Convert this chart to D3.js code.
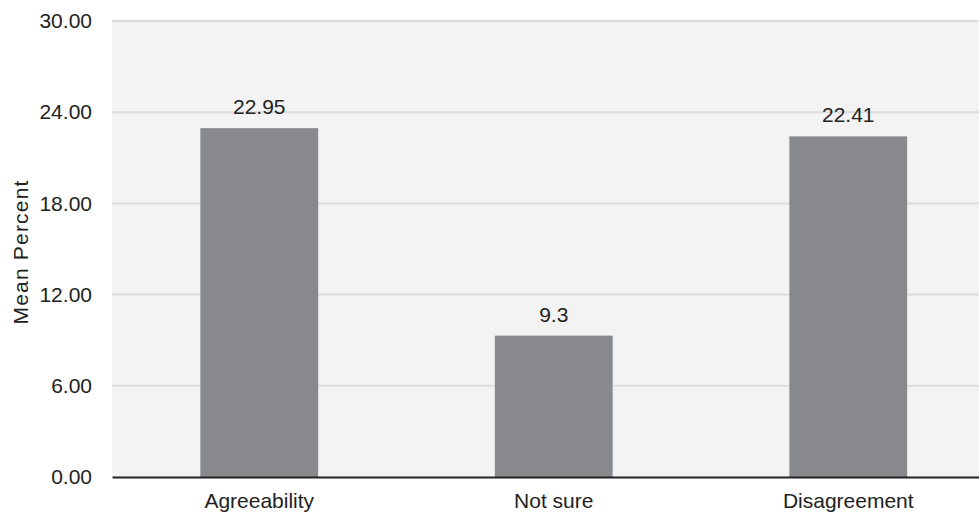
<!DOCTYPE html>
<html>
<head>
<meta charset="utf-8">
<script src="https://cdn.jsdelivr.net/npm/d3@7"></script>
<style>
  html, body { margin: 0; padding: 0; background: #ffffff; }
  svg { display: block; font-family: "Liberation Sans", Arial, sans-serif; }
</style>
</head>
<body>
<svg id="chart" width="979" height="515"></svg>
<script>
// Mean percent of responses per category
const categories = ["Agreeability", "Not sure", "Disagreement"];
const values = [22.95, 9.3, 22.41];
const valueLabels = ["22.95", "9.3", "22.41"];
const yTicks = [0, 6, 12, 18, 24, 30];

const svg = d3.select("#chart");
const plot = { left: 112, right: 995.5, top: 21, bottom: 477 };
const fontSize = 21;

const x = d3.scaleBand()
  .domain(categories)
  .range([plot.left, plot.right])
  .paddingInner(0.6)
  .paddingOuter(0.3);

const y = d3.scaleLinear()
  .domain([0, 30])
  .range([plot.bottom, plot.top]);

// plot background
svg.append("rect")
  .attr("x", plot.left)
  .attr("y", plot.top)
  .attr("width", plot.right - plot.left)
  .attr("height", plot.bottom - plot.top)
  .attr("fill", "#f3f3f3");

// horizontal gridlines
svg.append("g")
  .selectAll("line")
  .data(yTicks.filter(d => d > 0))
  .join("line")
  .attr("x1", plot.left)
  .attr("x2", plot.right)
  .attr("y1", d => y(d))
  .attr("y2", d => y(d))
  .attr("stroke", "#dcdcdc")
  .attr("stroke-width", 2);

// y axis tick labels
const yAxis = d3.axisLeft(y)
  .tickValues(yTicks)
  .tickFormat(d3.format(".2f"))
  .tickSize(0)
  .tickPadding(20);
const gy = svg.append("g")
  .attr("transform", `translate(${plot.left},0)`)
  .call(yAxis);
gy.select(".domain").remove();
gy.selectAll("text")
  .attr("font-size", fontSize)
  .attr("fill", "#222")
  .attr("font-family", "Liberation Sans, Arial, sans-serif");

// bars
svg.append("g")
  .selectAll("rect")
  .data(values)
  .join("rect")
  .attr("x", (d, i) => x(categories[i]))
  .attr("y", d => y(d))
  .attr("width", x.bandwidth())
  .attr("height", d => y(0) - y(d))
  .attr("fill", "#88898d");

// value labels
svg.append("g")
  .selectAll("text")
  .data(values)
  .join("text")
  .attr("x", (d, i) => x(categories[i]) + x.bandwidth() / 2)
  .attr("y", d => y(d) - 14)
  .attr("text-anchor", "middle")
  .attr("font-size", fontSize)
  .attr("fill", "#222")
  .text((d, i) => valueLabels[i]);

// x axis
const xAxis = d3.axisBottom(x).tickSize(0).tickPadding(16);
const gx = svg.append("g")
  .attr("transform", `translate(0,${plot.bottom})`)
  .call(xAxis);
gx.select(".domain")
  .attr("stroke", "#222")
  .attr("stroke-width", 2);
gx.selectAll("text")
  .attr("font-size", fontSize)
  .attr("fill", "#222")
  .attr("font-family", "Liberation Sans, Arial, sans-serif");

// y axis title
svg.append("text")
  .attr("transform", `translate(28,252) rotate(-90)`)
  .attr("text-anchor", "middle")
  .attr("font-size", fontSize)
  .attr("letter-spacing", 1.2)
  .attr("fill", "#222")
  .text("Mean Percent");
</script>
</body>
</html>
